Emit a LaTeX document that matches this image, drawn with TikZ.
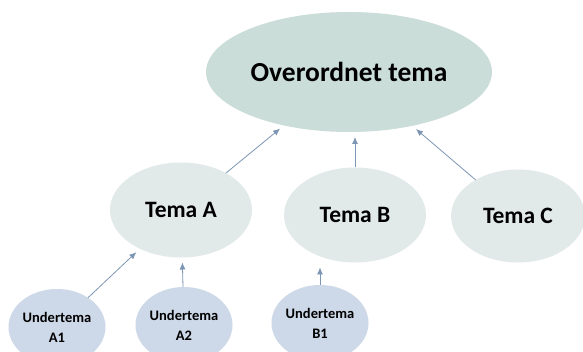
\documentclass[tikz,border=0pt]{standalone}
\usepackage{fontspec}
\setmainfont{Carlito}
\usetikzlibrary{shapes.geometric,arrows.meta}
\definecolor{topfill}{RGB}{203,221,217}
\definecolor{midfill}{RGB}{226,233,233}
\definecolor{lowfill}{RGB}{205,217,232}
\definecolor{arrowcol}{RGB}{125,150,180}
\tikzset{
  ell/.style={ellipse, inner sep=0pt, outer sep=0pt, draw=none, align=center, font=\bfseries},
  topnode/.style={ell, fill=topfill, minimum width=286pt, minimum height=120pt, font=\bfseries\fontsize{27.5}{30}\selectfont},
  midnode/.style={ell, fill=midfill, minimum width=142pt, minimum height=95pt, font=\bfseries\fontsize{23.5}{26}\selectfont},
  lownode/.style={ell, fill=lowfill, minimum width=92pt, minimum height=76pt, font=\bfseries\fontsize{14.5}{20}\selectfont},
  conn/.style={draw=arrowcol, line width=0.8pt, -{Latex[length=7pt,width=6pt]}, shorten >=5pt}
}
\begin{document}
\begin{tikzpicture}[x=1pt,y=-1pt]
\useasboundingbox[fill=white] (0,0) rectangle (583,352);
\begin{scope}
\clip (0,0) rectangle (583,352);
\node[topnode] (top) at (349,72) {Overordnet tema};
\node[midnode] (ta) at (181,210) {Tema A};
\node[midnode] (tb) at (355,215) {Tema B};
\node[midnode, minimum width=134pt, minimum height=93pt] (tc) at (518,216) {Tema C};
\node[lownode] (a1) at (57,327) {Undertema\\A1};
\node[lownode] (a2) at (184,325) {Undertema\\A2};
\node[lownode] (b1) at (320,323) {Undertema\\B1};
\end{scope}
\draw[conn] (ta) -- (top);
\draw[conn] (tb.north) -- (tb.north |- top.south);
\draw[conn] (tc) -- (top);
\draw[conn] (a1) -- (ta);
\draw[conn] (a2) -- (ta);
\draw[conn] (b1) -- (b1.north |- tb.south);
\end{tikzpicture}
\end{document}
